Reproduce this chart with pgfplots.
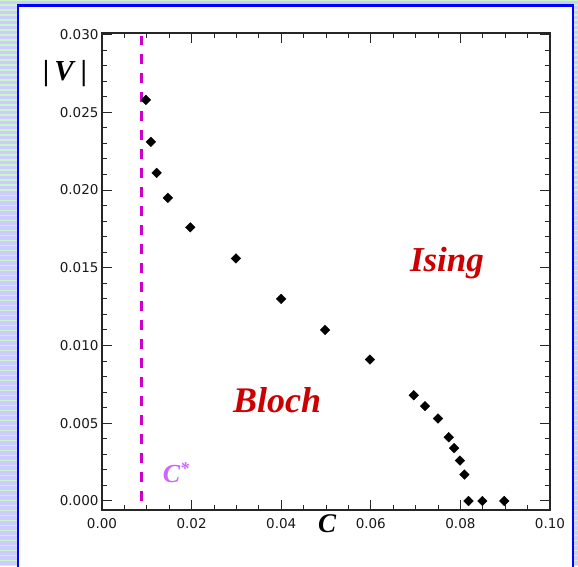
\documentclass[border=0pt]{standalone}
\usepackage{pgfplots}
\pgfplotsset{compat=1.18}
\usepackage{fontspec}
\setmainfont{Liberation Serif}
\newfontfamily\tickfont{DejaVu Sans}
\definecolor{lav}{HTML}{CCCCFF}
\definecolor{stripeg}{HTML}{CCF5C8}
\definecolor{frameblue}{HTML}{0000FF}
\definecolor{labred}{HTML}{CC0000}
\definecolor{cline}{HTML}{CC00CC}
\definecolor{cstar}{HTML}{CC66FF}

\begin{document}
\begin{tikzpicture}
\path[use as bounding box] (0,0) rectangle (578pt,566pt);
% striped page background and white panel
\fill[lav] (0,0) rectangle (578pt,566pt);
\foreach \i in {0,...,113} {
  \fill[stripeg] (0,\i*5pt) rectangle (578pt,\i*5pt+1.5pt);
}
\fill[white] (17.7pt,0) rectangle (572.9pt,560.3pt);
\draw[frameblue, line width=2.4pt] (17.7pt,-3pt) -- (17.7pt,560.3pt) -- (572.9pt,560.3pt) -- (572.9pt,-3pt);

\begin{axis}[
  at={(102pt,56pt)}, anchor=south west,
  width=448pt, height=477pt, scale only axis,
  xmin=0, xmax=0.1, ymin=-0.00058, ymax=0.0301,
  xtick={0,0.02,0.04,0.06,0.08,0.1},
  ytick={0,0.005,0.01,0.015,0.02,0.025,0.03},
  minor x tick num=3, minor y tick num=4,
  tick align=inside, tick pos=both,
  major tick length=10pt, minor tick length=5pt,
  axis line style={line width=1.2pt, black!85},
  tick style={line width=1pt, black!85},
  scaled ticks=false,
  xticklabel style={yshift=-5pt, /pgf/number format/fixed, /pgf/number format/fixed zerofill, /pgf/number format/precision=2},
  yticklabel style={/pgf/number format/fixed, /pgf/number format/fixed zerofill, /pgf/number format/precision=3},
  /pgf/number format/assume math mode=true,
  ticklabel style={font=\tickfont\fontsize{13.5}{13.5}\selectfont, black!90},
  clip=false,
]
  % C* boundary
  \addplot[cline, line width=2.6pt, dash pattern=on 10pt off 9pt] coordinates {(0.00886,0) (0.00886,0.0299)};
  % |V| vs C
  \addplot[only marks, mark=square*, mark size=3.4pt, mark options={rotate=45}, black] coordinates {
    (0.0098,0.0258) (0.0109,0.0231) (0.0122,0.0211) (0.0147,0.0195)
    (0.0197,0.0176) (0.0299,0.0156) (0.0400,0.0130) (0.0498,0.0110)
    (0.0598,0.0091) (0.0696,0.0068) (0.0721,0.0061) (0.0750,0.0053)
    (0.0774,0.0041) (0.0786,0.0034) (0.0799,0.0026) (0.0809,0.0017)
    (0.0818,0.0000) (0.0849,0.0000) (0.0898,0.0000)
  };
  \node[anchor=base, labred, font=\fontsize{35}{35}\selectfont\bfseries\itshape, inner sep=0pt] at (axis cs:0.0770,0.01473) {Ising};
  \node[anchor=base, labred, font=\fontsize{36}{36}\selectfont\bfseries\itshape, inner sep=0pt] at (axis cs:0.0391,0.00572) {Bloch};
  \node[anchor=base west, cstar, font=\fontsize{26}{26}\selectfont\bfseries\itshape, inner sep=0pt] at (axis cs:0.01355,0.00122) {C\raisebox{0.3em}{\fontsize{18}{18}\selectfont*}};
\end{axis}

\node[font=\fontsize{29}{29}\selectfont\bfseries, inner sep=0pt] at (65pt,492pt) {|\hspace{5pt}\textit{V}\hspace{5pt}|};
\node[font=\fontsize{27}{27}\selectfont\bfseries\itshape, inner sep=0pt] at (327pt,42pt) {C};
\end{tikzpicture}
\end{document}
